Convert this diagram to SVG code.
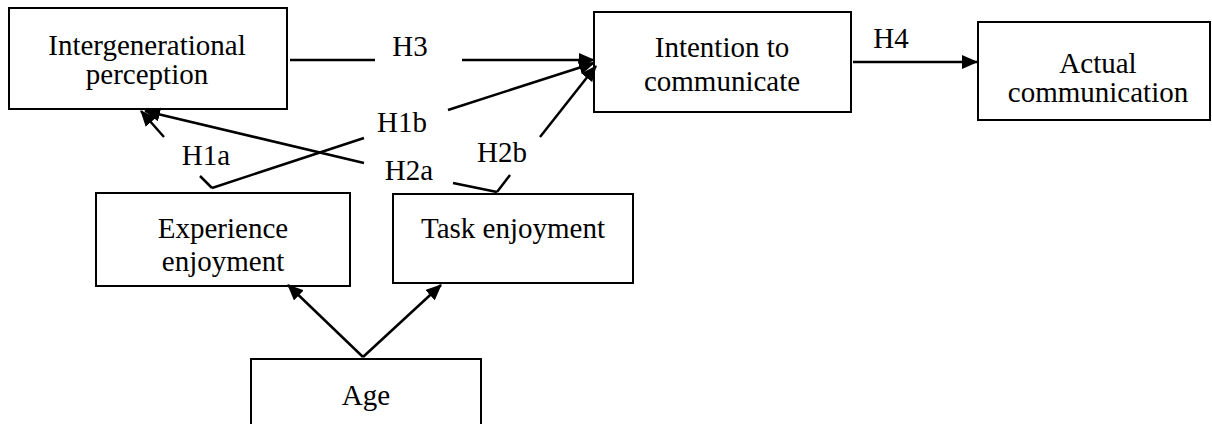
<svg xmlns="http://www.w3.org/2000/svg" width="1212" height="424" viewBox="0 0 1212 424">
<style>
  .box { fill: #fff; stroke: #000; stroke-width: 2; }
  .t { font-family: "Liberation Serif", "Times New Roman", serif; font-size: 29px; fill: #000; text-anchor: middle; }
  .c { fill: none; stroke: #000; stroke-width: 2.5; }
</style>
<defs>
  <marker id="ah" viewBox="0 0 16 14" refX="15" refY="7" markerWidth="16" markerHeight="14" markerUnits="userSpaceOnUse" orient="auto">
    <path d="M0,0 L16,7 L0,14 z" fill="#000"/>
  </marker>
</defs>
<rect width="1212" height="424" fill="#fff"/>
<g id="n-intergen">
  <rect class="box" x="9" y="8" width="278" height="101"/>
  <text class="t" x="147" y="55">Intergenerational</text>
  <text class="t" x="147" y="84">perception</text>
</g>
<g id="n-intention">
  <rect class="box" x="594" y="12" width="257" height="100"/>
  <text class="t" x="722" y="57">Intention to</text>
  <text class="t" x="722" y="91">communicate</text>
</g>
<g id="n-actual">
  <rect class="box" x="978" y="22" width="232" height="98"/>
  <text class="t" x="1098" y="73">Actual</text>
  <text class="t" x="1098" y="102">communication</text>
</g>
<g id="n-experience">
  <rect class="box" x="96" y="193" width="254" height="93"/>
  <text class="t" x="223" y="238">Experience</text>
  <text class="t" x="223" y="271">enjoyment</text>
</g>
<g id="n-task">
  <rect class="box" x="393" y="194" width="240" height="89"/>
  <text class="t" x="513" y="238">Task enjoyment</text>
</g>
<g id="n-age">
  <rect class="box" x="251" y="359" width="230" height="80"/>
  <text class="t" x="366" y="405">Age</text>
</g>
<g id="connectors">
  <line class="c" x1="290" y1="60" x2="375" y2="60"/>
  <line class="c" x1="462" y1="60" x2="594" y2="60" marker-end="url(#ah)"/>
  <line class="c" x1="853" y1="62" x2="977" y2="62" marker-end="url(#ah)"/>
  <line class="c" x1="212" y1="188" x2="200" y2="176"/>
  <line class="c" x1="164" y1="137" x2="141" y2="111" marker-end="url(#ah)"/>
  <line class="c" x1="212" y1="188" x2="364" y2="138"/>
  <line class="c" x1="448" y1="110" x2="594" y2="63" marker-end="url(#ah)"/>
  <line class="c" x1="497" y1="192" x2="453" y2="183"/>
  <line class="c" x1="364" y1="163" x2="145" y2="111" marker-end="url(#ah)"/>
  <line class="c" x1="497" y1="192" x2="510" y2="175"/>
  <line class="c" x1="540" y1="137" x2="596" y2="66" marker-end="url(#ah)"/>
  <line class="c" x1="363" y1="357" x2="288" y2="285" marker-end="url(#ah)"/>
  <line class="c" x1="363" y1="357" x2="441" y2="285" marker-end="url(#ah)"/>
  <text class="t" x="410" y="56">H3</text>
  <text class="t" x="891" y="48">H4</text>
  <text class="t" x="206" y="165">H1a</text>
  <text class="t" x="402" y="132">H1b</text>
  <text class="t" x="409" y="180">H2a</text>
  <text class="t" x="502" y="162">H2b</text>
</g>
</svg>
